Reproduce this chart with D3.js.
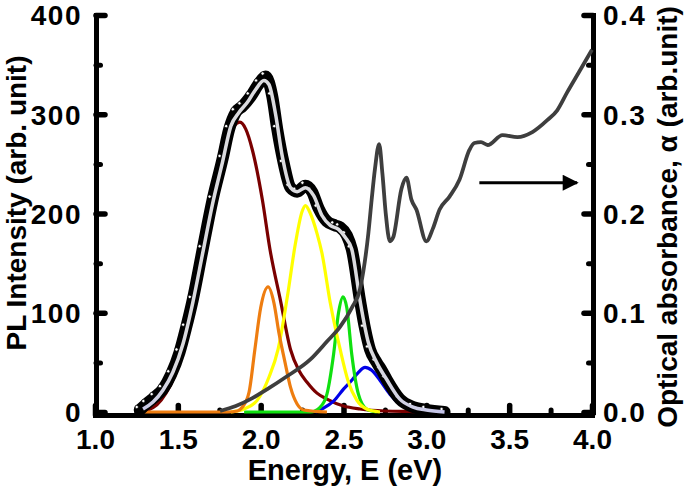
<!DOCTYPE html>
<html><head><meta charset="utf-8">
<script src="https://cdn.jsdelivr.net/npm/d3@7"></script>
<style>
html,body{margin:0;padding:0;background:#fff;}
svg{display:block;}
text{font-family:"Liberation Sans",Arial,sans-serif;font-weight:bold;fill:#000;}
</style></head><body>
<svg id="c" width="685" height="487"></svg>
<script>
// ---- tick values ----
const xTicks = [1.0, 1.5, 2.0, 2.5, 3.0, 3.5, 4.0];
const xMinor = [1.25, 1.75, 2.25, 2.75, 3.25, 3.75];
const yLeftTicks = [0, 100, 200, 300, 400];
const yLeftMinor = [50, 150, 250, 350];
const yRightTicks = [0, 0.1, 0.2, 0.3, 0.4];
const yRightMinor = [0.05, 0.15, 0.25, 0.35];

// ---- PL experimental (black band) ----
const plE = [1.27,1.31,1.36,1.41,1.46,1.51,1.55,1.59,1.65,1.71,1.77,1.81,1.85,1.89,1.94,1.99,2.03,2.07,2.10,2.14,2.18,2.22,2.27,2.31,2.35,2.40,2.45,2.48,2.52,2.55,2.60,2.63,2.66,2.70,2.73,2.76,2.84,2.92,3.00,3.11];
const plI = [2,8,15,23,38,60,85,113,164,214,255,285,302,308,318,331,338,318,285,250,226,222,228,222,205,192,188,186,178,164,112,84,63,50,42,33,13,5,2,0];

// ---- PL fit (light line) ----
const fitE = [1.29,1.35,1.41,1.47,1.53,1.59,1.65,1.71,1.77,1.82,1.87,1.92,1.97,2.02,2.05,2.09,2.13,2.18,2.22,2.27,2.32,2.37,2.42,2.47,2.51,2.55,2.60,2.65,2.70,2.76,2.84,2.92,3.00,3.11];
const fitI = [3,10,22,40,68,110,160,210,252,288,302,312,325,334,330,300,258,226,222,226,218,198,188,184,176,164,112,70,50,33,13,5,2,0];

// ---- fitted components ----
const redE = [1.30,1.40,1.50,1.60,1.70,1.78,1.84,1.875,1.91,1.95,2.01,2.056,2.12,2.18,2.23,2.28,2.34,2.40,2.50,2.60,2.75,2.90,3.11];
const redI = [1,12,45,115,200,262,288,292,285,264,214,164,112,63,42,30,19,13,6,3,1,0.5,0];
const orangeE = [1.27,1.50,1.80,1.86,1.89,1.93,1.965,2.00,2.045,2.08,2.11,2.147,2.18,2.22,2.26,2.40];
const orangeI = [0,0,0,1,5,20,63,105,126,110,80,50,25,8,2,0];
const yellowE = [1.82,1.90,1.98,2.05,2.105,2.16,2.21,2.25,2.27,2.30,2.34,2.37,2.42,2.48,2.53,2.58,2.64,2.72];
const yellowI = [0,3,12,35,63,115,170,202,208,200,180,160,110,63,30,12,3,0];
const greenE = [1.90,2.10,2.30,2.36,2.40,2.44,2.47,2.497,2.52,2.55,2.59,2.64,2.70];
const greenI = [0,0,0,5,18,58,100,116,105,58,18,3,0];
const blueE = [2.33,2.38,2.44,2.50,2.55,2.59,2.63,2.67,2.72,2.78,2.84,2.92,3.00];
const blueI = [0,4,11,23,32,40,45,42,32,18,8,2,0];

// ---- optical absorbance (right axis) ----
const absE = [1.755,1.85,1.95,2.04,2.15,2.30,2.40,2.48,2.55,2.60,2.62,2.65,2.67,2.69,2.715,2.735,2.755,2.78,2.80,2.85,2.88,2.91,2.94,3.00,3.04,3.08,3.14,3.20,3.26,3.29,3.33,3.37,3.46,3.55,3.64,3.73,3.79,3.85,3.92,4.00];
const absA = [0.001,0.006,0.014,0.023,0.035,0.053,0.071,0.086,0.105,0.124,0.142,0.180,0.214,0.245,0.270,0.240,0.200,0.172,0.176,0.225,0.236,0.214,0.204,0.172,0.185,0.204,0.217,0.234,0.264,0.271,0.272,0.269,0.279,0.277,0.282,0.294,0.304,0.322,0.342,0.365];

// ---- arrow (data coords on right axis) ----
const arrowE = [3.32, 3.91];
const arrowA = [0.231, 0.231];

// ---- drawing ----
const svg = d3.select('#c');
const x = d3.scaleLinear().domain([1, 4]).range([95, 592]);
const yL = d3.scaleLinear().domain([0, 400]).range([412, 15]);
const yR = d3.scaleLinear().domain([0, 0.4]).range([412, 15]);

const defs = svg.append('defs');
defs.append('marker').attr('id','ah').attr('viewBox','0 0 10 10').attr('refX',9).attr('refY',5)
  .attr('markerUnits','userSpaceOnUse').attr('markerWidth',18).attr('markerHeight',16).attr('orient','auto')
  .append('path').attr('d','M0,0 L10,5 L0,10 Z').attr('fill','#000');
const grad = defs.append('linearGradient').attr('id','fitg').attr('gradientUnits','userSpaceOnUse')
  .attr('x1', x(fitE[0])).attr('x2', x(fitE[fitE.length-1])).attr('y1',0).attr('y2',0);
[[0,'#c9c9e6'],[0.12,'#dadade'],[0.75,'#dadade'],[1,'#c4c4ea']].forEach(s =>
  grad.append('stop').attr('offset', s[0]).attr('stop-color', s[1]));

// axes first
const fs = 28;
function styleAxis(g, sw) {
  g.select('.domain').attr('stroke','#000').attr('stroke-width',5).attr('stroke-linecap','square');
  g.selectAll('.tick line').attr('stroke','#000').attr('stroke-width',sw).attr('stroke-linecap','round');
  g.selectAll('.tick text').style('font-size', fs+'px').attr('fill','#000');
}
const gxm = svg.append('g').attr('transform','translate(0,415)')
  .call(d3.axisBottom(x).tickValues(xMinor).tickSize(-5).tickSizeOuter(0).tickFormat(''));
styleAxis(gxm, 5); gxm.select('.domain').remove();
const gylm = svg.append('g').attr('transform','translate(96,0)')
  .call(d3.axisLeft(yL).tickValues(yLeftMinor).tickSize(-4.5).tickSizeOuter(0).tickFormat(''));
styleAxis(gylm, 5); gylm.select('.domain').remove();
const gyrm = svg.append('g').attr('transform','translate(593,0)')
  .call(d3.axisRight(yR).tickValues(yRightMinor).tickSize(-4.5).tickSizeOuter(0).tickFormat(''));
styleAxis(gyrm, 5); gyrm.select('.domain').remove();

const gx = svg.append('g').attr('transform','translate(0,415)')
  .call(d3.axisBottom(x).tickValues(xTicks).tickSize(-9.5).tickSizeOuter(0).tickFormat(d3.format('.1f')));
styleAxis(gx, 5.5);
gx.selectAll('.tick text').attr('y', 34).attr('dy', 0);

const gyl = svg.append('g').attr('transform','translate(96,0)')
  .call(d3.axisLeft(yL).tickValues(yLeftTicks).tickSize(-9).tickSizeOuter(0).tickFormat(d3.format('d')));
styleAxis(gyl, 5.5);
gyl.selectAll('.tick text').attr('x', -14).attr('dy', '0.35em').style('letter-spacing','1.5px');

const gyr = svg.append('g').attr('transform','translate(593,0)')
  .call(d3.axisRight(yR).tickValues(yRightTicks).tickSize(-9).tickSizeOuter(0).tickFormat(d3.format('.1f')));
styleAxis(gyr, 5.5);
gyr.selectAll('.tick text').attr('x', 10).attr('dy', '0.35em').style('letter-spacing','1.5px');

function lineL(E, I) {
  return d3.line().x((d,i)=>x(E[i])).y((d,i)=>yL(I[i])).curve(d3.curveMonotoneX)(E);
}

// draw order: red, blue, green, yellow, orange
const comps = [
  [redE, redI, '#7a0000'],
  [blueE, blueI, '#0000e8'],
  [greenE, greenI, '#10e010'],
  [yellowE, yellowI, '#ffff00'],
  [orangeE, orangeI, '#ee7d10']
];
comps.forEach(c => {
  svg.append('path').attr('d', lineL(c[0], c[1])).attr('fill','none')
    .attr('stroke', c[2]).attr('stroke-width', 3.2).attr('stroke-linejoin','round');
});

// experimental band
svg.append('path').attr('d', lineL(plE, plI)).attr('fill','none')
  .attr('stroke','#000').attr('stroke-width',12).attr('stroke-linejoin','round').attr('stroke-linecap','round');
svg.append('g').selectAll('circle').data(plE).join('circle')
  .attr('cx',(d,i)=>x(plE[i])-3).attr('cy',(d,i)=>yL(plI[i])-3).attr('r',1.7)
  .attr('fill','#fff').attr('stroke','#000').attr('stroke-width',0.8);

// fit line
svg.append('path').attr('d', lineL(fitE, fitI)).attr('fill','none')
  .attr('stroke','url(#fitg)').attr('stroke-width',3.5).attr('stroke-linejoin','round');

// absorbance
svg.append('path').attr('d', d3.line().x((d,i)=>x(absE[i])).y((d,i)=>yR(absA[i])).curve(d3.curveMonotoneX)(absE))
  .attr('fill','none').attr('stroke','#3e3e3e').attr('stroke-width',3.8).attr('stroke-linejoin','round');

// arrow
svg.append('line').attr('x1',x(arrowE[0])).attr('y1',yR(arrowA[0])).attr('x2',x(arrowE[1])).attr('y2',yR(arrowA[1]))
  .attr('stroke','#000').attr('stroke-width',3).attr('marker-end','url(#ah)');

// titles
svg.append('text').attr('x', 345).attr('y', 480).attr('text-anchor','middle')
  .style('font-size','29px').text('Energy, E (eV)');
svg.append('text').attr('transform','translate(26,203) rotate(-90)').attr('text-anchor','middle')
  .style('font-size','28px').text('PL Intensity (arb. unit)');
svg.append('text').attr('transform','translate(677,217) rotate(-90)').attr('text-anchor','middle')
  .style('font-size','28px').text('Optical absorbance, α (arb.unit)');
</script>
</body></html>
